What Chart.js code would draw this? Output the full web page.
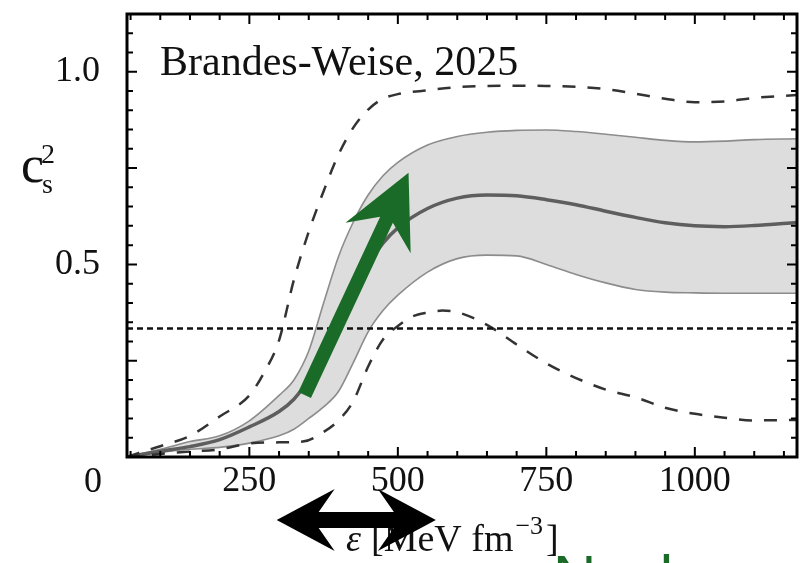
<!DOCTYPE html>
<html>
<head>
<meta charset="utf-8">
<script src="https://cdn.jsdelivr.net/npm/chart.js@4.4.1/dist/chart.umd.min.js"></script>
<style>
  html, body { margin: 0; padding: 0; background: #fff; }
  #wrap { width: 808px; height: 563px; }
</style>
</head>
<body>
<div id="wrap"><canvas id="chart-1" width="808" height="563"></canvas></div>
<script>
// energy density grid for the band [MeV fm^-3]
const eps = [44, 100, 150, 200, 250, 300, 325, 350, 375, 400, 425, 450, 475, 500, 550, 600, 650, 700, 750, 800, 850, 900, 950, 1000, 1050, 1100, 1172];
const bandUpper = [0, 0.02, 0.04, 0.055, 0.094, 0.16, 0.2, 0.275, 0.4, 0.52, 0.61, 0.68, 0.73, 0.765, 0.81, 0.832, 0.843, 0.848, 0.849, 0.845, 0.838, 0.83, 0.822, 0.818, 0.82, 0.824, 0.826];
const bandLower = [0, 0.012, 0.02, 0.025, 0.036, 0.055, 0.072, 0.1, 0.13, 0.17, 0.245, 0.325, 0.38, 0.42, 0.48, 0.515, 0.524, 0.522, 0.5, 0.474, 0.452, 0.435, 0.428, 0.426, 0.425, 0.425, 0.425];
const median = [0, 0.015, 0.027, 0.045, 0.078, 0.118, 0.15, 0.2, 0.27, 0.35, 0.43, 0.5, 0.555, 0.595, 0.645, 0.672, 0.68, 0.678, 0.668, 0.655, 0.638, 0.622, 0.608, 0.6, 0.598, 0.601, 0.609];

// outer dashed envelopes
const outerUpperEps = [44, 63, 100, 150, 200, 250, 275, 300, 325, 350, 375, 400, 425, 450, 475, 500, 550, 600, 650, 700, 750, 800, 850, 900, 950, 1000, 1050, 1100, 1172];
const outerUpper = [0, 0.01, 0.028, 0.055, 0.105, 0.16, 0.22, 0.303, 0.46, 0.585, 0.69, 0.785, 0.855, 0.902, 0.93, 0.942, 0.952, 0.96, 0.963, 0.964, 0.963, 0.961, 0.955, 0.943, 0.93, 0.921, 0.923, 0.932, 0.94];
const outerLowerEps = [44, 100, 150, 200, 250, 300, 340, 375, 400, 425, 450, 475, 500, 525, 550, 575, 600, 650, 700, 750, 800, 850, 900, 950, 1000, 1050, 1100, 1172];
const outerLower = [0, 0.008, 0.014, 0.02, 0.035, 0.038, 0.04, 0.065, 0.095, 0.145, 0.235, 0.305, 0.34, 0.365, 0.375, 0.38, 0.376, 0.343, 0.292, 0.243, 0.205, 0.175, 0.155, 0.128, 0.112, 0.102, 0.095, 0.096];

const conformal = 1 / 3;

const xTicks = [250, 500, 750, 1000];
const yTicks = [0.5, 1.0];

const xRange = [44, 1172];
const yRange = [0, 1.15];

// arrow from the rising part of the band up to the plateau (data coords)
const riseArrow = { from: [343, 0.161], to: [518, 0.738] };
const epsArrow = [296, 564];

function pts(xs, ys) {
  return xs.map((x, i) => ({ x: x, y: ys[i] }));
}

const serif = '"Liberation Serif", "Times New Roman", serif';

function poly(ctx, p) {
  ctx.beginPath();
  ctx.moveTo(p[0][0], p[0][1]);
  for (let i = 1; i < p.length; i++) ctx.lineTo(p[i][0], p[i][1]);
  ctx.closePath();
  ctx.fill();
}

// swept arrow head polygon from tail to tip
function arrowPoly(tx, ty, px, py, half, headLen, headHalf, notch) {
  const dx = px - tx, dy = py - ty;
  const L = Math.hypot(dx, dy);
  const ux = dx / L, uy = dy / L;
  const nx = -uy, ny = ux;
  const nbx = px - ux * notch, nby = py - uy * notch;
  const bbx = px - ux * headLen, bby = py - uy * headLen;
  return [
    [tx + nx * half, ty + ny * half],
    [nbx + nx * half, nby + ny * half],
    [bbx + nx * headHalf, bby + ny * headHalf],
    [px, py],
    [bbx - nx * headHalf, bby - ny * headHalf],
    [nbx - nx * half, nby - ny * half],
    [tx - nx * half, ty - ny * half]
  ];
}

const frame = {
  id: 'frame',
  afterDatasetsDraw(chart) {
    const { ctx, chartArea: a, scales: { x, y } } = chart;
    ctx.save();
    ctx.strokeStyle = '#000';
    ctx.lineWidth = 2;
    ctx.beginPath();
    for (let i = 1; i * 50 <= x.max; i++) {
      const px = x.getPixelForValue(i * 50);
      if (px <= a.left + 2 || px >= a.right - 2) continue;
      const len = i % 5 === 0 ? 10 : 6;
      ctx.moveTo(px, a.bottom); ctx.lineTo(px, a.bottom - len);
      ctx.moveTo(px, a.top); ctx.lineTo(px, a.top + len);
    }
    for (let i = 1; i * 0.05 < y.max; i++) {
      const py = y.getPixelForValue(i * 0.05);
      const len = i % 5 === 0 ? 10 : 6;
      ctx.moveTo(a.left, py); ctx.lineTo(a.left + len, py);
      ctx.moveTo(a.right, py); ctx.lineTo(a.right - len, py);
    }
    ctx.stroke();
    ctx.lineWidth = 3;
    ctx.strokeRect(a.left, a.top, a.right - a.left, a.bottom - a.top);
    ctx.restore();
  },
  afterDraw(chart) {
    const { ctx, scales: { x, y } } = chart;
    ctx.save();
    ctx.fillStyle = '#111';
    ctx.textBaseline = 'alphabetic';

    // heading inside the frame
    ctx.font = '42px ' + serif;
    ctx.textAlign = 'left';
    ctx.fillText('Brandes-Weise, 2025', 160, 75);

    // corner zero
    ctx.font = '36px ' + serif;
    ctx.textAlign = 'right';
    ctx.fillText('0', 102, 492);

    // y title: c_s^2
    ctx.textAlign = 'left';
    ctx.font = '52px ' + serif;
    ctx.fillText('c', 21, 182);
    ctx.font = '28px ' + serif;
    ctx.fillText('2', 41, 163);
    ctx.fillText('s', 42, 193);

    // x title: eps [MeV fm^-3]
    let cx = 346;
    const base = 551;
    ctx.font = 'italic 38px ' + serif;
    ctx.fillText('ε', cx, base);
    cx += ctx.measureText('ε').width + 10;
    ctx.font = '38px ' + serif;
    ctx.fillText('[MeV fm', cx, base);
    cx += ctx.measureText('[MeV fm').width + 2;
    ctx.font = '26px ' + serif;
    ctx.fillText('−3', cx, base - 17);
    cx += ctx.measureText('−3').width + 3;
    ctx.font = '38px ' + serif;
    ctx.fillText(']', cx, base);

    // green arrow along the rise
    ctx.fillStyle = '#1b6b28';
    const t0 = [x.getPixelForValue(riseArrow.from[0]), y.getPixelForValue(riseArrow.from[1])];
    const t1 = [x.getPixelForValue(riseArrow.to[0]), y.getPixelForValue(riseArrow.to[1])];
    poly(ctx, arrowPoly(t0[0], t0[1], t1[0], t1[1], 7, 72, 36, 52));

    // black double arrow under the axis
    ctx.fillStyle = '#000';
    const l = x.getPixelForValue(epsArrow[0]);
    const r = x.getPixelForValue(epsArrow[1]);
    const mid = (l + r) / 2;
    const ay = 520;
    poly(ctx, arrowPoly(mid + 1, ay, l, ay, 8, 58, 31, 42));
    poly(ctx, arrowPoly(mid - 1, ay, r, ay, 8, 58, 31, 42));

    // green caption running off the bottom edge
    ctx.fillStyle = '#1b6b28';
    ctx.font = '60px "Liberation Sans", Arial, sans-serif';
    ctx.fillText('Nuclear', 553, 597);
    ctx.restore();
  }
};

const lineBase = {
  pointRadius: 0,
  cubicInterpolationMode: 'monotone',
  fill: false
};

new Chart('chart-1', {
  type: 'line',
  data: {
    datasets: [
      Object.assign({}, lineBase, {
        data: pts(xRange, [conformal, conformal]),
        borderColor: '#111', borderWidth: 2.5, borderDash: [6, 4]
      }),
      Object.assign({}, lineBase, {
        data: pts(outerUpperEps, outerUpper),
        borderColor: '#333', borderWidth: 2.5, borderDash: [13, 12]
      }),
      Object.assign({}, lineBase, {
        data: pts(outerLowerEps, outerLower),
        borderColor: '#333', borderWidth: 2.5, borderDash: [13, 12]
      }),
      Object.assign({}, lineBase, {
        data: pts(eps, median),
        borderColor: '#5e5e5e', borderWidth: 3.5
      }),
      Object.assign({}, lineBase, {
        data: pts(eps, bandUpper),
        borderColor: '#8c8c8c', borderWidth: 1.6,
        backgroundColor: '#dddddd',
        fill: '+1'
      }),
      Object.assign({}, lineBase, {
        data: pts(eps, bandLower),
        borderColor: '#8c8c8c', borderWidth: 1.6
      })
    ]
  },
  options: {
    responsive: false,
    animation: false,
    events: [],
    layout: { padding: { top: 14, right: 11, left: 0, bottom: 0 } },
    plugins: {
      legend: { display: false },
      tooltip: { enabled: false },
      filler: { drawTime: 'beforeDatasetsDraw' }
    },
    scales: {
      x: {
        type: 'linear',
        min: xRange[0],
        max: xRange[1],
        grid: { display: false },
        border: { display: false },
        afterBuildTicks: s => { s.ticks = xTicks.map(v => ({ value: v })); },
        afterFit: s => {
          s.height = 106;
          s.paddingLeft = 0; s.paddingRight = 0;
        },
        ticks: {
          autoSkip: false,
          maxRotation: 0,
          padding: -5,
          color: '#111',
          font: { family: serif, size: 36 },
          callback: v => String(v)
        }
      },
      y: {
        min: yRange[0],
        max: yRange[1],
        grid: { display: false },
        border: { display: false },
        afterBuildTicks: s => { s.ticks = yTicks.map(v => ({ value: v })); },
        afterFit: s => {
          s.width = 127;
          s.paddingTop = 0; s.paddingBottom = 0;
        },
        ticks: {
          padding: 19,
          color: '#111',
          font: { family: serif, size: 36 },
          callback: v => v.toFixed(1)
        }
      }
    }
  },
  plugins: [frame]
});
</script>
</body>
</html>
